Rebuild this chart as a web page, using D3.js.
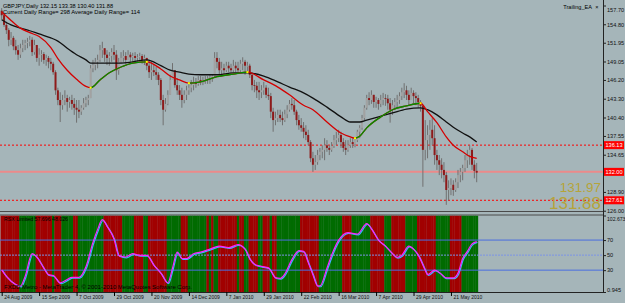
<!DOCTYPE html>
<html>
<head>
<meta charset="utf-8">
<script src="https://cdn.jsdelivr.net/npm/d3@7"></script>
<style>
  html, body { margin: 0; padding: 0; background: #a5b5b9; }
  svg { display: block; font-family: "Liberation Sans", Arial, sans-serif; }
</style>
</head>
<body>
<svg id="chart" width="625" height="303"></svg>
<script>
// ---- data (daily GBPJPY bars) ----
var dateLabels = ['24 Aug 2009', '15 Sep 2009', '7 Oct 2009', '29 Oct 2009', '20 Nov 2009', '14 Dec 2009',
  '7 Jan 2010', '29 Jan 2010', '22 Feb 2010', '16 Mar 2010', '7 Apr 2010', '29 Apr 2010', '21 May 2010']
var dateIdx = [0, 16, 32, 48, 64, 80, 96, 112, 128, 144, 160, 176, 192]

var firstOpen = 156.9
var highs = [157.3,156.4,155.2,154.2,153.6,153.0,152.4,151.6,151.8,152.4,152.4,152.7,153.0,152.8,152.4,151.6,151.1,150.8,150.5,150.1,
  149.9,149.6,149.0,147.7,145.0,144.3,143.9,144.6,143.9,143.6,143.9,143.4,143.1,143.1,142.3,143.4,143.6,143.9,148.5,149.3,
  149.6,150.1,151.6,152.1,151.1,150.8,150.5,151.1,151.6,150.8,149.6,150.5,150.8,150.5,150.8,150.5,150.4,150.5,150.2,150.4,
  150.2,150.1,149.6,149.3,149.0,148.7,148.2,147.4,146.5,143.9,143.4,144.6,147.0,148.8,147.7,146.5,145.4,145.0,144.6,145.3,
  145.9,146.2,146.7,146.5,146.8,146.8,146.7,146.8,146.8,147.0,147.1,150.5,150.5,149.6,149.0,148.7,149.0,149.0,148.7,149.3,
  149.0,149.0,149.3,149.7,149.3,149.0,148.7,147.4,146.2,145.9,145.9,145.4,145.9,145.4,145.0,144.2,141.9,141.3,141.6,141.6,
  141.3,141.6,142.3,143.1,143.4,143.1,141.6,140.8,140.3,139.7,139.2,138.5,136.9,135.1,134.6,135.4,135.7,136.1,137.2,136.9,
  136.1,136.6,137.7,138.2,138.5,138.2,137.2,136.9,136.9,137.2,137.2,137.4,138.5,139.2,140.8,142.3,143.9,144.3,144.6,143.9,
  143.6,143.4,143.9,144.2,144.0,143.9,143.4,143.1,143.4,143.9,144.3,145.0,145.7,145.3,144.6,145.0,144.6,144.3,143.9,143.1,
  142.3,140.0,139.2,140.0,140.3,139.2,135.4,134.6,134.1,133.5,132.0,130.7,131.0,130.7,131.0,132.3,132.6,133.1,134.6,135.4,
  136.1,135.7,133.8,133.38]
var lows = [155.5,154.4,153.3,151.4,151.6,150.8,150.1,149.3,149.6,150.5,150.8,151.1,151.4,149.9,150.1,149.0,148.4,149.0,148.7,148.4,
  148.0,147.7,147.0,143.9,142.3,139.7,141.6,142.3,141.3,141.9,141.6,140.8,139.6,140.3,140.8,141.6,142.0,142.3,143.4,147.4,
  147.7,148.0,149.0,149.6,149.0,148.5,148.4,149.0,149.3,146.2,147.0,148.8,149.0,148.7,149.3,149.0,148.8,149.0,149.0,149.3,
  148.7,148.5,147.7,146.5,146.2,146.8,146.2,145.4,142.3,139.2,141.3,142.3,143.9,146.2,145.0,143.9,143.1,141.9,142.6,143.1,
  143.9,144.3,144.6,145.0,145.3,145.4,145.4,145.6,145.6,145.6,145.9,146.5,148.0,147.0,146.7,147.0,147.4,147.4,147.3,147.4,
  147.4,147.1,147.4,147.7,147.0,147.4,146.5,144.6,144.3,143.4,143.1,143.4,143.9,143.4,143.1,140.3,138.2,139.2,139.7,139.7,
  139.2,139.7,140.3,141.3,141.6,140.8,139.2,138.5,138.2,137.2,136.9,136.1,133.5,132.0,132.3,133.1,133.8,134.1,133.8,135.1,
  134.6,135.1,135.7,136.1,136.6,135.7,135.1,134.6,135.1,135.7,135.7,135.8,136.6,137.2,138.5,140.0,141.6,142.3,142.5,141.9,
  141.9,141.6,142.0,142.3,142.2,141.6,139.6,140.8,141.6,141.9,142.5,143.1,143.4,143.1,142.3,143.1,142.6,142.3,141.9,141.3,
  129.7,133.8,134.1,135.4,136.1,133.1,132.3,131.5,131.0,130.4,126.9,127.6,128.4,128.3,128.9,129.5,130.4,130.7,132.0,132.6,
  133.1,132.3,131.0,130.40]
var closes = [156.2,154.7,153.9,152.4,152.7,151.4,150.8,150.1,151.1,151.6,151.9,152.1,152.4,150.5,151.6,149.6,150.1,150.2,149.3,149.6,
  149.0,148.7,147.4,144.6,143.1,142.3,143.1,143.4,142.8,143.1,142.5,141.9,141.6,141.3,141.9,142.6,143.1,143.4,148.0,148.5,
  149.0,149.3,150.8,151.1,150.1,149.6,149.9,150.5,150.1,147.7,149.0,149.6,149.9,149.3,150.1,149.7,149.9,149.6,149.7,149.9,
  149.3,149.6,148.4,147.4,147.7,147.4,147.0,146.2,143.1,141.6,142.5,143.9,146.2,147.7,145.4,144.6,143.9,143.1,143.9,144.6,
  145.0,145.4,145.9,145.6,146.2,145.9,146.2,146.2,146.4,146.5,146.8,149.6,149.0,147.7,148.0,147.7,148.4,148.0,147.7,148.4,
  148.0,147.7,148.7,149.0,148.4,148.4,147.0,145.4,145.3,144.6,144.3,144.6,145.0,143.9,143.7,141.3,140.0,140.3,140.8,140.3,
  140.0,140.9,141.6,142.5,142.3,141.3,140.0,139.2,138.8,138.2,137.7,136.6,134.1,133.1,133.5,134.6,135.1,135.4,136.1,135.7,
  135.4,136.0,136.9,137.2,137.7,136.6,135.7,135.4,136.1,136.6,136.3,136.9,138.2,138.8,140.3,141.9,143.4,143.1,143.9,142.8,
  143.1,142.5,143.1,143.4,143.3,142.6,141.6,142.3,142.8,143.1,143.7,144.3,144.6,143.9,143.1,144.2,143.7,143.4,142.8,142.2,
  135.4,136.9,137.7,138.5,137.2,134.6,133.8,133.1,132.3,131.5,129.2,129.5,130.0,129.2,130.4,131.5,132.0,132.6,133.8,134.6,
  135.4,133.1,132.15,131.88]

// moving averages, sampled at bar indices
var maIdx = [0,4,8,12,16,21,24,28,32,36,38,42,46,51,56,62,68,72,76,80,85,92,99,105,112,118,123,129,133,139,
  145,149,151,153,156,162,167,173,179,182,186,190,193,197,200,203]
var maFast = [156.7,155.4,154.2,153.5,152.9,151.2,149.5,147.7,146.3,145.2,145.0,146.2,147.3,148.2,148.8,149.0,147.9,146.8,146.2,145.7,
  145.9,146.7,147.1,147.4,146.2,145.1,143.9,142.3,141.6,139.7,138.0,137.4,137.2,137.5,138.8,140.5,141.6,142.2,142.6,141.3,
  139.6,137.4,136.1,135.1,134.4,134.1]
var maSlow = [155.5,154.7,154.2,153.8,153.3,152.7,152.2,151.1,150.1,149.3,148.8,148.8,148.8,148.8,149.0,149.3,148.4,147.7,147.4,147.1,
  147.0,147.0,147.3,147.3,146.8,145.9,145.1,144.2,143.4,142.0,140.5,139.7,139.7,139.7,140.0,140.6,141.1,141.7,141.9,141.6,
  140.8,139.7,138.9,138.0,137.4,136.6]

var priceTicks = [157.70, 154.80, 151.95, 149.05, 146.20, 143.30, 140.40, 137.55, 134.65, 128.90, 126.00]
var levelLines = [136.13, 132.00, 127.61]

// RSX indicator
var rsxIdx = [0,2,6,8,10,13,15,18,20,22,25,28,30,33,36,39,41,43,45,48,50,53,56,59,62,65,68,71,73,75,
  77,79,82,85,89,93,97,101,104,106,108,111,114,117,119,121,124,127,129,131,133,135,136,139,141,144,148,152,156,158,
  161,164,167,169,171,174,176,178,181,182,185,187,190,193,195,197,199,201,203]
var rsxVal = [30.4,21.7,11,8.8,21.7,51.9,47.5,32.6,24,23,13.2,17.5,20.5,20.5,34.6,66.9,84.2,97.1,88.5,71.3,
  49.7,47.5,51.9,49.7,49.7,36.8,26.1,13.2,32.6,54,45.5,45.5,51.9,54,58,62,60,64,58,45,
  38,35,33,20,19,25,44,56,55,40,24,9,9,32.6,50,70,80,78,92,85,
  70,62,52,47,50,62,58,50,30,24,30,27,19.7,19.7,26.1,45.5,55,65,68]
var rsxLevels = [70, 50, 30]
var rsxTicks = [102.673, 70, 50, 30, 0.945]
// background state of each bar: [colour, number of bars]
var bandRuns = [['r',8],['g',7],['r',7],['g',1],['r',3],['g',5],['r',2],['g',11],['r',8],['g',5],['r',4],['g',2],['r',8],['g',6],
  ['r',3],['g',8],['r',1],['g',1],['r',1],['g',2],['r',8],['g',1],['r',2],['g',2],['r',4],['g',2],['r',3],['g',1],['r',2],['g',10],
  ['r',8],['g',10],['r',4],['g',8],['r',6],['g',3],['r',6],['g',5],['r',8],['g',6],['r',5],['g',7]]

// ---- drawing ----
var svg = d3.select('#chart')
var right = 603
var x = d3.scaleLinear().domain([0, 203]).range([1.7, 476.7])
var yP = d3.scaleLinear().domain([125.8, 158.55]).range([212, 0])
var yI = d3.scaleLinear().domain([0.945, 102.673]).range([292, 215.5])

var defs = svg.append('defs')
defs.append('clipPath').attr('id', 'mainClip').append('rect')
  .attr('x', 0).attr('y', 0).attr('width', right).attr('height', 211)
defs.append('clipPath').attr('id', 'indClip').append('rect')
  .attr('x', 0).attr('y', 215.5).attr('width', right).attr('height', 76.5)

var main = svg.append('g').attr('clip-path', 'url(#mainClip)')

// level lines
main.selectAll('line.level').data(levelLines).enter().append('line')
  .attr('class', 'level')
  .attr('x1', 0).attr('x2', right)
  .attr('y1', function(d) { return yP(d) }).attr('y2', function(d) { return yP(d) })
  .attr('stroke', function(d, i) { return i === 1 ? '#ec8a8a' : '#ff0000' })
  .attr('stroke-width', function(d, i) { return i === 1 ? 2 : 1 })
  .attr('stroke-dasharray', function(d, i) { return i === 1 ? null : '2,2' })

// candles
var bars = closes.map(function(c, i) {
  return {i: i, o: i ? closes[i-1] : firstOpen, h: highs[i], l: lows[i], c: c}
})
var candle = main.selectAll('g.bar').data(bars).enter().append('g').attr('class', 'bar')
candle.append('line')
  .attr('x1', function(d) { return x(d.i) }).attr('x2', function(d) { return x(d.i) })
  .attr('y1', function(d) { return yP(d.h) }).attr('y2', function(d) { return yP(d.l) })
  .attr('stroke', '#707070').attr('stroke-width', 1)
candle.append('rect')
  .attr('x', function(d) { return x(d.i) - 1 }).attr('width', 2)
  .attr('y', function(d) { return yP(Math.max(d.o, d.c)) })
  .attr('height', function(d) { return Math.max(0.8, Math.abs(yP(d.o) - yP(d.c))) })
  .attr('fill', function(d) { return d.c >= d.o ? '#a2a2a2' : '#8e1a1a' })

// moving averages
var slowPts = maIdx.map(function(d, k) { return [x(d), yP(maSlow[k])] })
var fastPts = maIdx.map(function(d, k) { return [x(d), yP(maFast[k])] })
var line = d3.line().curve(d3.curveMonotoneX)
main.append('path').attr('d', line(slowPts)).attr('fill', 'none').attr('stroke', '#111').attr('stroke-width', 1.3)
main.append('path').attr('d', line(fastPts)).attr('fill', 'none').attr('stroke', '#d40000').attr('stroke-width', 1.3)

// rising stretches of the fast average are green
var runs = [], turns = []
maFast.forEach(function(v, k) {
  if (k === maFast.length - 1) return
  var up = maFast[k+1] > v
  var last = runs[runs.length - 1]
  if (up) {
    if (last && last.end === k) last.end = k + 1
    else runs.push({start: k, end: k + 1})
  }
  if (k > 0 && (maFast[k+1] > v) !== (v > maFast[k-1])) turns.push(k)
})
runs.forEach(function(r, n) {
  defs.append('clipPath').attr('id', 'up' + n).append('rect')
    .attr('x', fastPts[r.start][0]).attr('y', 0)
    .attr('width', fastPts[r.end][0] - fastPts[r.start][0]).attr('height', 212)
  main.append('path').attr('d', line(fastPts)).attr('fill', 'none')
    .attr('stroke', '#009000').attr('stroke-width', 1.3).attr('clip-path', 'url(#up' + n + ')')
})
main.selectAll('rect.turn').data(turns).enter().append('rect')
  .attr('class', 'turn')
  .attr('x', function(k) { return fastPts[k][0] - 1 }).attr('y', function(k) { return fastPts[k][1] - 1 })
  .attr('width', 2).attr('height', 2).attr('fill', '#ffff00')

// big price texts
svg.append('text').attr('x', 601).attr('y', 192).attr('text-anchor', 'end')
  .attr('font-size', 13.5).attr('fill', '#b5a43a').text('131.97')
svg.append('text').attr('x', 601).attr('y', 208.5).attr('text-anchor', 'end')
  .attr('font-size', 17).attr('fill', '#b5a43a').text('131.88')

// top texts
svg.append('text').attr('x', 3).attr('y', 7.5).attr('font-size', 5.8).attr('fill', '#000')
  .attr('textLength', 110).attr('lengthAdjust', 'spacingAndGlyphs')
  .text('GBPJPY,Daily  132.15 133.38 130.40 131.88')
svg.append('text').attr('x', 3).attr('y', 14.2).attr('font-size', 5.8).attr('fill', '#000')
  .attr('textLength', 137).attr('lengthAdjust', 'spacingAndGlyphs')
  .text('Current Daily Range= 298     Average Daily Range= 114')
svg.append('text').attr('x', 592).attr('y', 9).attr('font-size', 5.6).attr('text-anchor', 'end')
  .attr('fill', '#000').text('Trailing_EA')
svg.append('text').attr('x', 597).attr('y', 9).attr('font-size', 5.6).attr('text-anchor', 'middle')
  .attr('fill', '#000').text('×')

// panel separators
svg.append('line').attr('x1', 0).attr('x2', right).attr('y1', 211.5).attr('y2', 211.5).attr('stroke', '#4a4a4a')
svg.append('line').attr('x1', 0).attr('x2', right).attr('y1', 215).attr('y2', 215).attr('stroke', '#4a4a4a')

// indicator panel
var ind = svg.append('g').attr('clip-path', 'url(#indClip)')
var barState = []
bandRuns.forEach(function(r) { for (var k = 0; k < r[1]; k++) barState.push(r[0]) })
var step = x(1) - x(0)
ind.selectAll('rect.band').data(barState).enter().append('rect')
  .attr('class', 'band')
  .attr('x', function(d, i) { return x(i) - step / 2 }).attr('width', step + 0.3)
  .attr('y', 215.5).attr('height', 76.5)
  .attr('fill', function(d) { return d === 'r' ? '#a10000' : '#006b00' })
ind.selectAll('line.lvl').data(rsxLevels).enter().append('line')
  .attr('class', 'lvl')
  .attr('x1', 0).attr('x2', right)
  .attr('y1', function(d) { return yI(d) }).attr('y2', function(d) { return yI(d) })
  .attr('stroke', function(d) { return d === 50 ? '#7b93e6' : '#4a6de0' })
  .attr('stroke-dasharray', function(d) { return d === 50 ? '2,1' : null })
var rsxPts = rsxIdx.map(function(d, k) { return [x(d), yI(rsxVal[k])] })
var rline = d3.line().curve(d3.curveMonotoneX)
ind.append('path').attr('d', rline(rsxPts)).attr('fill', 'none').attr('stroke', '#39b6ff')
  .attr('stroke-width', 1.2).attr('transform', 'translate(0.8,0.8)')
ind.append('path').attr('d', rline(rsxPts)).attr('fill', 'none').attr('stroke', '#ff22ff').attr('stroke-width', 1.2)
svg.append('text').attr('x', 4).attr('y', 221).attr('font-size', 5.6).attr('fill', '#000')
  .attr('textLength', 64).attr('lengthAdjust', 'spacingAndGlyphs').text('RSX Limited 57.696 48.026')
svg.append('text').attr('x', 4).attr('y', 289).attr('font-size', 5.6).attr('fill', '#000')
  .attr('textLength', 188).attr('lengthAdjust', 'spacingAndGlyphs')
  .text('FXDD Metro - MetaTrader 4, © 2001-2010 MetaQuotes Software Corp.')

// right price axis
var yAxis = d3.axisRight(yP).tickValues(priceTicks).tickFormat(d3.format('.2f'))
  .tickSize(3).tickPadding(1).tickSizeOuter(0)
var ga = svg.append('g').attr('transform', 'translate(' + right + ',0)').call(yAxis)
ga.select('.domain').remove()
var yAxisI = d3.axisRight(yI).tickValues(rsxTicks).tickFormat(function(d) { return d3.format('~f')(d) })
  .tickSize(3).tickPadding(1).tickSizeOuter(0)
var gi = svg.append('g').attr('transform', 'translate(' + right + ',0)').call(yAxisI)
gi.select('.domain').remove()
svg.append('line').attr('x1', right + 0.5).attr('x2', right + 0.5).attr('y1', 0).attr('y2', 292).attr('stroke', '#222')
svg.selectAll('.tick text').attr('font-size', 5.6).attr('fill', '#111').attr('font-family', '"Liberation Sans", Arial, sans-serif')
svg.selectAll('.tick line').attr('stroke', '#222')
// the extreme labels sit inside their panel, as in the terminal
ga.selectAll('.tick text').filter(function(d) { return d === 157.70 }).attr('dy', '1.0em')
gi.selectAll('.tick text').filter(function(d) { return d === 102.673 }).attr('dy', '1.0em').attr('font-size', 5.1)
gi.selectAll('.tick text').filter(function(d) { return d === 0.945 }).attr('dy', '-0.1em')

// level labels on the axis
var lab = svg.selectAll('g.lvllab').data(levelLines).enter().append('g').attr('class', 'lvllab')
  .attr('transform', function(d) { return 'translate(' + (right + 1) + ',' + yP(d) + ')' })
lab.append('rect').attr('x', 0).attr('y', -4).attr('width', 20).attr('height', 8).attr('fill', '#ff0000')
lab.append('text').attr('x', 10).attr('y', 2).attr('text-anchor', 'middle').attr('font-size', 5.6)
  .attr('fill', '#fff').text(function(d) { return d3.format('.2f')(d) })

// bottom date axis
var xAxis = d3.axisBottom(x).tickValues(dateIdx).tickFormat(function(d, i) { return dateLabels[i] })
  .tickSize(4).tickSizeOuter(0)
var gx = svg.append('g').attr('transform', 'translate(0,292)').call(xAxis)
gx.select('.domain').attr('d', 'M0,0.5H' + right).attr('stroke', '#222')
gx.selectAll('.tick text').attr('font-size', 5).attr('text-anchor', 'start').attr('dx', 2).attr('dy', '-0.1em')
  .attr('fill', '#111')
</script>
</body>
</html>
